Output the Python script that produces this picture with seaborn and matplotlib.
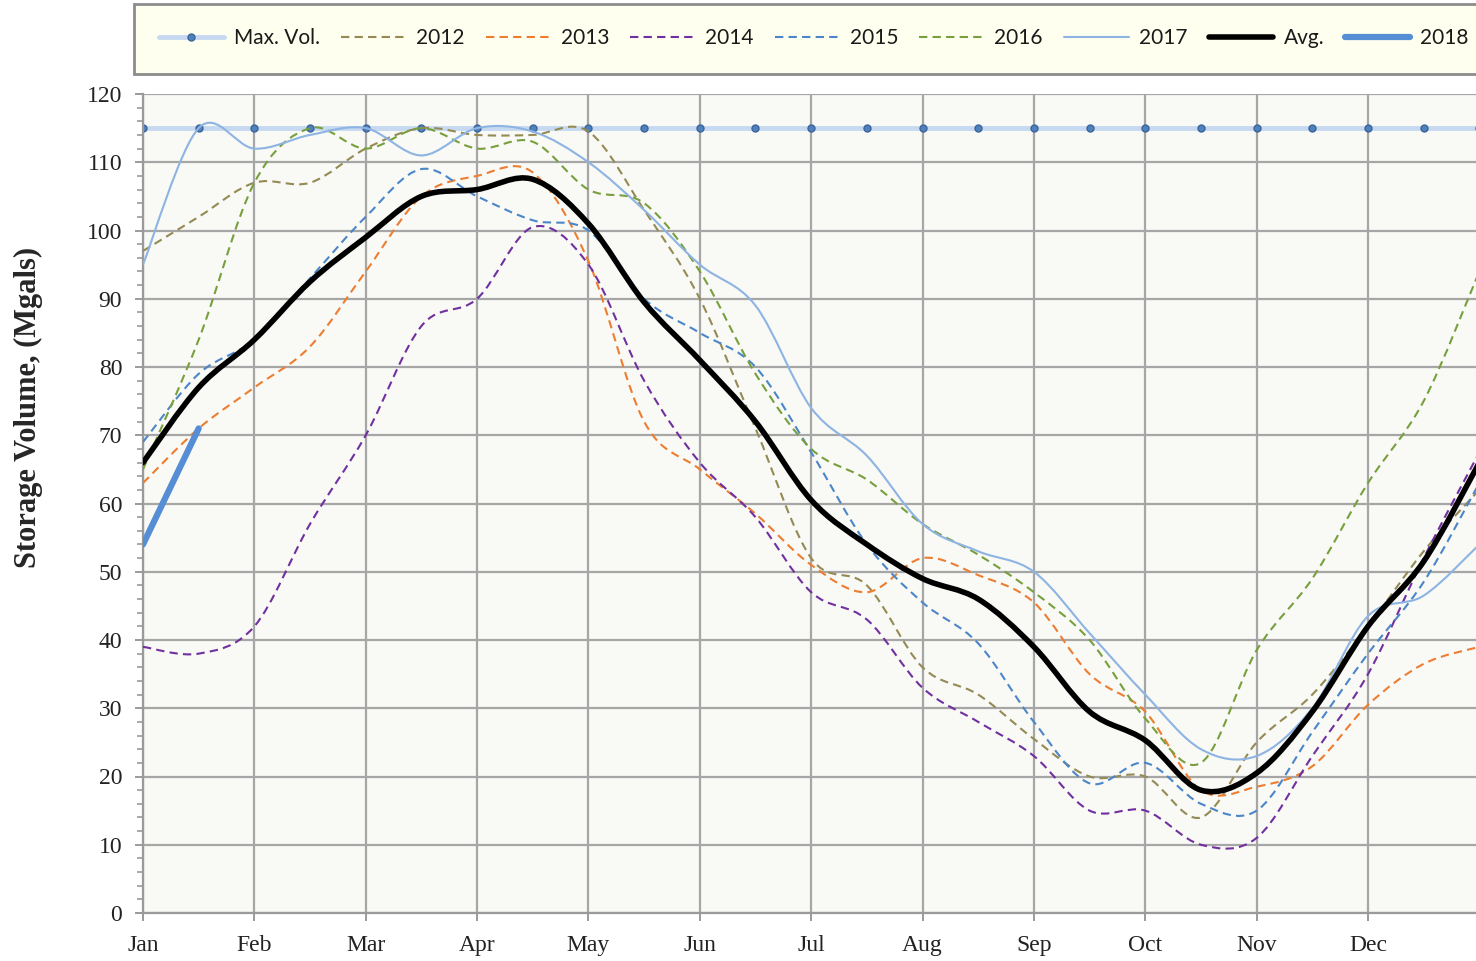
import numpy as np
import pandas as pd
import matplotlib
matplotlib.use("Agg")
import matplotlib.pyplot as plt
import seaborn as sns
from matplotlib.path import Path
from matplotlib.patches import PathPatch
from matplotlib.lines import Line2D
from matplotlib.ticker import MultipleLocator

# semi-monthly readings, Jan 1 .. Jan 1 of the next year
months = ["Jan", "Feb", "Mar", "Apr", "May", "Jun", "Jul", "Aug", "Sep", "Oct", "Nov", "Dec"]
half_month = list(range(25))

max_vol = [115, 115, 115, 115, 115, 115, 115, 115, 115, 115, 115, 115, 115,
           115, 115, 115, 115, 115, 115, 115, 115, 115, 115, 115, 115]
y2012 = [97, 102, 107, 107, 112, 115, 114, 114, 114.5, 103, 90, 71, 52,
         48, 36, 32, 25.5, 20, 20, 14, 25, 32, 42, 53, 62]
y2013 = [63, 71, 77, 83, 94, 105, 108, 108.5, 95.5, 72, 65, 58.5, 51,
         47, 52, 49.5, 45.5, 35, 29.5, 18, 18.5, 21.5, 30.5, 36.5, 39]
y2014 = [39, 38, 42, 57, 70, 86, 90, 100.5, 95, 78, 66, 58, 47,
         43, 33, 28, 23, 15, 15, 10, 11, 23, 35, 52, 67.5]
y2015 = [69, 79, 84, 93, 102, 109, 105, 101.5, 100, 90, 85, 80, 67.5,
         54, 45.5, 39.5, 28, 19, 22, 16, 15, 26.5, 38, 48.5, 63]
y2016 = [65, 84, 107, 115, 112, 115, 112, 113, 106, 104, 94, 79, 68,
         63.5, 57, 52.5, 47, 40, 28.5, 22, 38.5, 49, 63, 75, 94]
y2017 = [95, 115, 112, 114, 115, 111, 115, 114.5, 110, 103, 95, 89, 74,
         67, 57, 53, 50, 41, 32, 24, 23, 30, 43.5, 46.5, 54]
avg = [66, 77, 84, 92.5, 99, 105, 106, 107.5, 101, 89.5, 81, 72, 60.5,
       54, 49, 46, 39, 29.5, 25.3, 18, 20.5, 29.5, 42, 51.5, 66]
y2018 = [54, 71]

dash = (0, (4, 2.5))
series = [
    ("2012", y2012, "#948a54", dash, 1.5),
    ("2013", y2013, "#ed7d31", dash, 1.5),
    ("2014", y2014, "#7030a0", dash, 1.5),
    ("2015", y2015, "#4a86c8", dash, 1.5),
    ("2016", y2016, "#77a03d", dash, 1.5),
    ("2017", y2017, "#8db4e2", "-", 1.5),
    ("Avg.", avg, "#000000", "-", 4),
]


def smooth_path(x, y):
    # Excel-style smoothed line: Catmull-Rom converted to cubic Bezier
    pts = np.column_stack([x, y]).astype(float)
    ext = np.vstack([pts[0], pts, pts[-1]])
    verts = [pts[0]]
    codes = [Path.MOVETO]
    for i in range(len(pts) - 1):
        p0, p1, p2, p3 = ext[i], ext[i + 1], ext[i + 2], ext[i + 3]
        verts += [p1 + (p2 - p0) / 6, p2 - (p3 - p1) / 6, p2]
        codes += [Path.CURVE4] * 3
    return Path(verts, codes)


sns.set_theme(style="whitegrid")
plt.rcParams["font.family"] = ["Liberation Serif", "DejaVu Serif"]

fig = plt.figure(figsize=(14.76, 9.61), dpi=100)
ax = fig.add_axes([143 / 1476, 48 / 961, 1 - 143 / 1476, 819 / 961])
ax.set_facecolor("#f9f9f5")

df_max = pd.DataFrame({"half_month": half_month, "volume": max_vol})
sns.lineplot(data=df_max, x="half_month", y="volume", ax=ax, color="#c6d9f1",
             lw=3.5, marker="o", markersize=5, markerfacecolor="#4f81bd",
             markeredgecolor="#3a659a", markeredgewidth=1, zorder=2)

for name, vals, col, ls, lw in series:
    patch = PathPatch(smooth_path(half_month, vals), fill=False, edgecolor=col,
                      lw=lw, linestyle=ls, capstyle="round" if lw > 2 else "butt",
                      zorder=4 if name == "Avg." else 3)
    ax.add_patch(patch)

df18 = pd.DataFrame({"half_month": half_month[:2], "volume": y2018})
sns.lineplot(data=df18, x="half_month", y="volume", ax=ax, color="#558ed5",
             lw=4.5, solid_capstyle="round", zorder=5)

ax.set_xlim(0, 23.94)
ax.set_ylim(0, 120)
ax.set_xticks(half_month[0:24:2])
ax.set_xticklabels(months)
ax.yaxis.set_major_locator(MultipleLocator(10))
ax.yaxis.set_minor_locator(MultipleLocator(2))
ax.grid(True, which="major", color="#a6a6a6", lw=1.6)
ax.grid(False, which="minor")
ax.set_xlabel("")
ax.set_ylabel("Storage Volume, (Mgals)", fontsize=22, fontweight="bold",
              family="Liberation Serif")
ax.yaxis.set_label_coords(-0.075, 0.617)

for s in ["top", "right"]:
    ax.spines[s].set_visible(False)
for s in ["left", "bottom"]:
    ax.spines[s].set_color("#9a9a9a")
    ax.spines[s].set_linewidth(1.6)

ax.tick_params(axis="both", which="major", direction="out", length=6, width=1.4,
               color="#9a9a9a", labelsize=17, labelcolor="#222222")
ax.tick_params(axis="y", which="major", pad=9, left=True)
ax.tick_params(axis="x", which="major", pad=10, bottom=True)
ax.tick_params(axis="y", which="minor", direction="out", length=4, width=1.2,
               color="#9a9a9a", left=True)

handles = [Line2D([], [], color="#c6d9f1", lw=3.5, marker="o", ms=5,
                  mfc="#4f81bd", mec="#3a659a")]
labels = ["Max. Vol."]
for name, vals, col, ls, lw in series:
    handles.append(Line2D([], [], color=col, lw=lw, linestyle=ls,
                          solid_capstyle="round"))
    labels.append(name)
handles.append(Line2D([], [], color="#558ed5", lw=4.5, solid_capstyle="round"))
labels.append("2018")

# box runs past the right edge of the figure, as in the source chart
leg = fig.legend(handles, labels, loc="center", ncol=9, mode="expand",
                 bbox_to_anchor=(134 / 1476, 1 - 72 / 961, 1.012 - 134 / 1476, 67 / 961),
                 borderaxespad=0, prop={"family": "Lato", "size": 15},
                 handlelength=3.1, handletextpad=0.5, borderpad=1.2,
                 fancybox=False, framealpha=1)
leg.get_frame().set_facecolor("#fffff0")
leg.get_frame().set_edgecolor("#8c8c8c")
leg.get_frame().set_linewidth(2)
for t in leg.get_texts():
    t.set_color("#1a1a1a")

fig.savefig("out.png", dpi=100)
